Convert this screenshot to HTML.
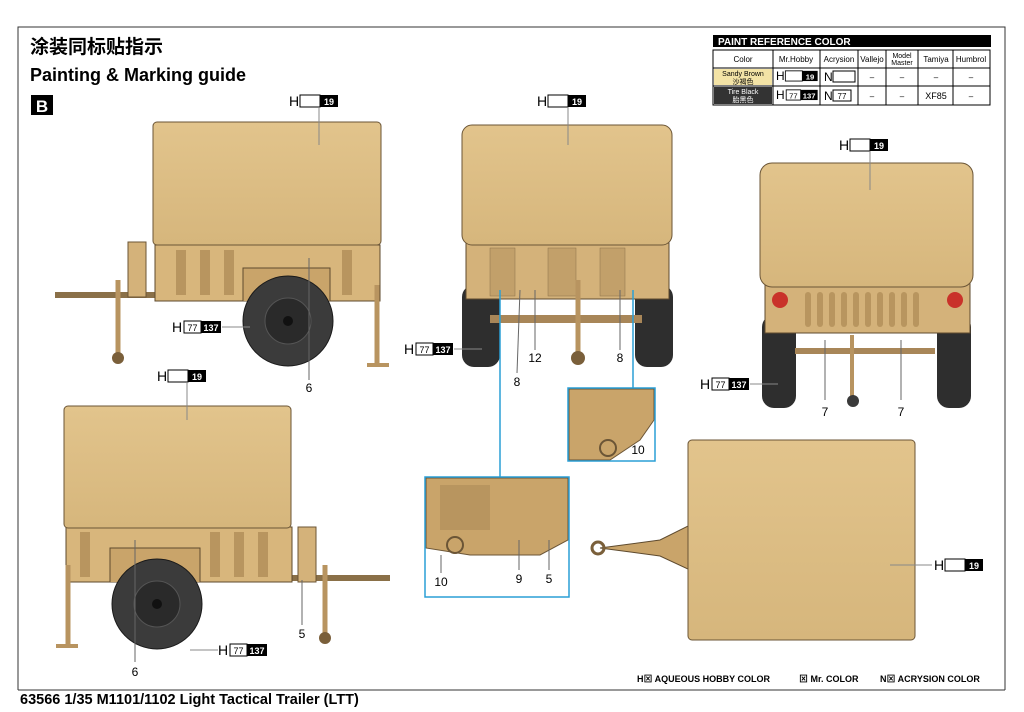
<!DOCTYPE html>
<html><head><meta charset="utf-8"><style>
body{margin:0;background:#fff;}
svg{display:block;font-family:"Liberation Sans","Noto Sans CJK SC",sans-serif;}
</style></head><body>
<svg width="1024" height="712" viewBox="0 0 1024 712" xmlns="http://www.w3.org/2000/svg">
<defs>
<g id="t19"><text x="0" y="12" font-size="14">H</text><rect x="11" y="1" width="20" height="12" fill="#fff" stroke="#000" stroke-width="1"/><rect x="31" y="1" width="18" height="12" fill="#000"/><text x="40" y="11" font-size="9" font-weight="bold" fill="#fff" text-anchor="middle">19</text></g>
<g id="t77"><text x="0" y="12" font-size="14">H</text><rect x="12" y="1" width="17" height="12" fill="#fff" stroke="#000" stroke-width="1"/><text x="20.5" y="11" font-size="9" text-anchor="middle">77</text><rect x="29" y="1" width="20" height="12" fill="#000"/><text x="39" y="11" font-size="9" font-weight="bold" fill="#fff" text-anchor="middle">137</text></g>
<linearGradient id="cv" x1="0" y1="0" x2="0" y2="1"><stop offset="0" stop-color="#e2c48c"/><stop offset="1" stop-color="#d6b67c"/></linearGradient>
</defs>
<path d="M18 690 V27 H1005 V690" fill="none" stroke="#333" stroke-width="1"/>
<line x1="18" y1="690" x2="1005" y2="690" stroke="#333"/>
<text x="30" y="53" font-size="19" font-weight="bold">涂装同标贴指示</text>
<text x="30" y="81" font-size="18" font-weight="bold">Painting &amp; Marking guide</text>
<rect x="31" y="95" width="22" height="20" fill="#000"/><text x="42" y="112" font-size="17" font-weight="bold" fill="#fff" text-anchor="middle">B</text>

<rect x="713" y="35" width="278" height="12" fill="#000"/>
<text x="718" y="45" font-size="10" font-weight="bold" fill="#fff">PAINT  REFERENCE COLOR</text>
<g stroke="#000" stroke-width="1" fill="none">
<rect x="713" y="50" width="277" height="55"/>
<line x1="713" y1="68" x2="990" y2="68"/><line x1="713" y1="86" x2="990" y2="86"/>
<line x1="773" y1="50" x2="773" y2="105"/><line x1="820" y1="50" x2="820" y2="105"/><line x1="858" y1="50" x2="858" y2="105"/><line x1="886" y1="50" x2="886" y2="105"/><line x1="918" y1="50" x2="918" y2="105"/><line x1="953" y1="50" x2="953" y2="105"/>
</g>
<rect x="714" y="69" width="58" height="16" fill="#f3e3a6"/><rect x="714" y="87" width="58" height="17" fill="#333"/>
<g font-size="8" text-anchor="middle">
<text x="743" y="62">Color</text><text x="796" y="62">Mr.Hobby</text><text x="839" y="62">Acrysion</text><text x="872" y="62">Vallejo</text><text x="902" y="58" font-size="7">Model</text><text x="902" y="65" font-size="7">Master</text><text x="936" y="62">Tamiya</text><text x="971" y="62">Humbrol</text>
<text x="743" y="76" font-size="7">Sandy Brown</text><text x="743" y="84" font-size="7">沙褐色</text>
<text x="743" y="94" font-size="7" fill="#fff">Tire Black</text><text x="743" y="102" font-size="7" fill="#fff">胎黑色</text>
<text x="872" y="80">–</text><text x="902" y="80">–</text><text x="936" y="80">–</text><text x="971" y="80">–</text>
<text x="872" y="99">–</text><text x="902" y="99">–</text><text x="936" y="99" font-size="9">XF85</text><text x="971" y="99">–</text>
</g>
<use href="#t19" transform="translate(776,70) scale(0.85)"/>
<use href="#t77" transform="translate(776,89) scale(0.85)"/>
<text x="824" y="81" font-size="12">N</text><rect x="833" y="71" width="22" height="11" fill="#fff" stroke="#000"/>
<text x="824" y="100" font-size="12">N</text><rect x="833" y="90" width="18" height="11" fill="#fff" stroke="#000"/><text x="842" y="99" font-size="8" text-anchor="middle">77</text>

<!-- side view 1 -->
<g>
<line x1="55" y1="295" x2="160" y2="295" stroke="#8a7048" stroke-width="6"/>
<rect x="128" y="242" width="18" height="55" fill="#d4b27a" stroke="#6b5536"/>
<line x1="118" y1="280" x2="118" y2="360" stroke="#b89460" stroke-width="5"/><circle cx="118" cy="358" r="6" fill="#7a5f3a"/>
<rect x="155" y="245" width="225" height="56" fill="#d8b67c" stroke="#5e4a2e"/>
<g fill="#b8955f"><rect x="176" y="250" width="10" height="45"/><rect x="200" y="250" width="10" height="45"/><rect x="224" y="250" width="10" height="45"/><rect x="342" y="250" width="10" height="45"/></g>
<path d="M243 301 V268 H330 V301" fill="#c9a46a" stroke="#5e4a2e"/>
<rect x="153" y="122" width="228" height="123" rx="4" fill="url(#cv)" stroke="#6b5536"/>
<line x1="377" y1="285" x2="377" y2="365" stroke="#b89460" stroke-width="5"/><rect x="367" y="363" width="22" height="4" fill="#b89460"/>
<circle cx="288" cy="321" r="45" fill="#3b3b3b" stroke="#1a1a1a"/><circle cx="288" cy="321" r="23" fill="#2a2a2a" stroke="#555"/><circle cx="288" cy="321" r="5" fill="#111"/>
</g>
<use href="#t19" transform="translate(289,94)"/><line x1="319" y1="108" x2="319" y2="145" stroke="#888"/>
<use href="#t77" transform="translate(172,320)"/><line x1="222" y1="327" x2="250" y2="327" stroke="#888"/>
<line x1="309" y1="258" x2="309" y2="380" stroke="#666"/><text x="309" y="392" font-size="12" text-anchor="middle">6</text>

<!-- side view 2 -->
<g>
<line x1="285" y1="578" x2="390" y2="578" stroke="#8a7048" stroke-width="6"/>
<rect x="298" y="527" width="18" height="55" fill="#d4b27a" stroke="#6b5536"/>
<line x1="325" y1="565" x2="325" y2="640" stroke="#b89460" stroke-width="5"/><circle cx="325" cy="638" r="6" fill="#7a5f3a"/>
<rect x="66" y="527" width="226" height="55" fill="#d8b67c" stroke="#5e4a2e"/>
<g fill="#b8955f"><rect x="80" y="532" width="10" height="45"/><rect x="210" y="532" width="10" height="45"/><rect x="234" y="532" width="10" height="45"/><rect x="258" y="532" width="10" height="45"/></g>
<path d="M110 582 V548 H200 V582" fill="#c9a46a" stroke="#5e4a2e"/>
<rect x="64" y="406" width="227" height="122" rx="4" fill="url(#cv)" stroke="#6b5536"/>
<line x1="68" y1="565" x2="68" y2="645" stroke="#b89460" stroke-width="5"/><rect x="56" y="644" width="22" height="4" fill="#b89460"/>
<circle cx="157" cy="604" r="45" fill="#3b3b3b" stroke="#1a1a1a"/><circle cx="157" cy="604" r="23" fill="#2a2a2a" stroke="#555"/><circle cx="157" cy="604" r="5" fill="#111"/>
</g>
<use href="#t19" transform="translate(157,369)"/><line x1="187" y1="383" x2="187" y2="420" stroke="#888"/>
<use href="#t77" transform="translate(218,643)"/><line x1="190" y1="650" x2="218" y2="650" stroke="#888"/>
<line x1="135" y1="540" x2="135" y2="662" stroke="#666"/><text x="135" y="676" font-size="12" text-anchor="middle">6</text>
<line x1="302" y1="580" x2="302" y2="625" stroke="#666"/><text x="302" y="638" font-size="12" text-anchor="middle">5</text>

<!-- rear view middle -->
<g>
<rect x="462" y="285" width="38" height="82" rx="12" fill="#2e2e2e"/><rect x="635" y="285" width="38" height="82" rx="12" fill="#2e2e2e"/>
<rect x="466" y="243" width="203" height="56" fill="#d4b27a" stroke="#5e4a2e"/>
<g fill="#c2a06a" stroke="#8a7048" stroke-width="0.5"><rect x="490" y="248" width="25" height="48"/><rect x="548" y="248" width="28" height="48"/><rect x="600" y="248" width="25" height="48"/></g>
<rect x="490" y="315" width="152" height="8" fill="#a88658"/>
<line x1="578" y1="280" x2="578" y2="355" stroke="#b89460" stroke-width="5"/><circle cx="578" cy="358" r="7" fill="#7a5f3a"/>
<rect x="462" y="125" width="210" height="120" rx="10" fill="url(#cv)" stroke="#6b5536"/>
</g>
<use href="#t19" transform="translate(537,94)"/><line x1="568" y1="108" x2="568" y2="145" stroke="#888"/>
<use href="#t77" transform="translate(404,342)"/><line x1="454" y1="349" x2="482" y2="349" stroke="#888"/>
<line x1="535" y1="290" x2="535" y2="350" stroke="#666"/><text x="535" y="362" font-size="12" text-anchor="middle">12</text>
<line x1="520" y1="290" x2="517" y2="373" stroke="#666"/><text x="517" y="386" font-size="12" text-anchor="middle">8</text>
<line x1="620" y1="290" x2="620" y2="350" stroke="#666"/><text x="620" y="362" font-size="12" text-anchor="middle">8</text>

<!-- front view right -->
<g>
<rect x="762" y="315" width="34" height="93" rx="12" fill="#2e2e2e"/><rect x="937" y="315" width="34" height="93" rx="12" fill="#2e2e2e"/>
<rect x="765" y="283" width="205" height="50" fill="#d4b27a" stroke="#5e4a2e"/>
<g fill="#b8955f"><rect x="805" y="292" width="6" height="35" rx="3"/><rect x="817" y="292" width="6" height="35" rx="3"/><rect x="829" y="292" width="6" height="35" rx="3"/><rect x="841" y="292" width="6" height="35" rx="3"/><rect x="853" y="292" width="6" height="35" rx="3"/><rect x="865" y="292" width="6" height="35" rx="3"/><rect x="877" y="292" width="6" height="35" rx="3"/><rect x="889" y="292" width="6" height="35" rx="3"/><rect x="901" y="292" width="6" height="35" rx="3"/><rect x="913" y="292" width="6" height="35" rx="3"/></g>
<circle cx="780" cy="300" r="8" fill="#c9322a"/><circle cx="955" cy="300" r="8" fill="#c9322a"/>
<rect x="795" y="348" width="140" height="6" fill="#a88658"/>
<line x1="852" y1="335" x2="852" y2="400" stroke="#b89460" stroke-width="4"/><circle cx="853" cy="401" r="6" fill="#3a3a3a"/>
<rect x="760" y="163" width="213" height="124" rx="12" fill="url(#cv)" stroke="#6b5536"/>
</g>
<use href="#t19" transform="translate(839,138)"/><line x1="870" y1="152" x2="870" y2="190" stroke="#888"/>
<use href="#t77" transform="translate(700,377)"/><line x1="750" y1="384" x2="778" y2="384" stroke="#888"/>
<line x1="825" y1="340" x2="825" y2="400" stroke="#666"/><text x="825" y="416" font-size="12" text-anchor="middle">7</text>
<line x1="901" y1="340" x2="901" y2="400" stroke="#666"/><text x="901" y="416" font-size="12" text-anchor="middle">7</text>

<!-- top view -->
<g>
<path d="M600 548 L660 540 L690 525 L690 570 L660 556 Z" fill="#c9a46a" stroke="#5e4a2e"/>
<circle cx="598" cy="548" r="6" fill="none" stroke="#7a5f3a" stroke-width="3"/>
<rect x="688" y="440" width="227" height="200" rx="4" fill="url(#cv)" stroke="#6b5536"/>
</g>
<use href="#t19" transform="translate(934,558)"/><line x1="890" y1="565" x2="932" y2="565" stroke="#888"/>

<!-- details -->
<g stroke="#2a9fd6" stroke-width="1.5" fill="none">
<polyline points="500,290 500,477"/><polyline points="633,290 633,388"/>
</g>
<rect x="569" y="389" width="85" height="71" fill="#fff"/>
<path d="M569 389 H654 V420 L640 440 L610 460 H569 Z" fill="#c9a46a" stroke="#6b5536"/>
<circle cx="608" cy="448" r="8" fill="none" stroke="#6b5536" stroke-width="2"/>
<text x="638" y="454" font-size="12" text-anchor="middle">10</text>
<rect x="426" y="478" width="142" height="118" fill="#fff"/>
<path d="M426 478 H568 V540 L540 555 H470 L426 548 Z" fill="#c9a46a" stroke="#6b5536"/>
<rect x="440" y="485" width="50" height="45" fill="#b8955f"/>
<circle cx="455" cy="545" r="8" fill="none" stroke="#6b5536" stroke-width="2"/>
<text x="441" y="586" font-size="12" text-anchor="middle">10</text><line x1="441" y1="555" x2="441" y2="573" stroke="#666"/>
<text x="519" y="583" font-size="12" text-anchor="middle">9</text><line x1="519" y1="540" x2="519" y2="570" stroke="#666"/>
<text x="549" y="583" font-size="12" text-anchor="middle">5</text><line x1="549" y1="540" x2="549" y2="570" stroke="#666"/>
<g stroke="#2a9fd6" stroke-width="1.5" fill="none">
<rect x="568" y="388" width="87" height="73"/>
<rect x="425" y="477" width="144" height="120"/>
</g>

<text x="637" y="682" font-size="9" font-weight="bold">H⊠ AQUEOUS HOBBY COLOR</text>
<text x="799" y="682" font-size="9" font-weight="bold">⊠ Mr. COLOR</text>
<text x="880" y="682" font-size="9" font-weight="bold">N⊠ ACRYSION COLOR</text>
<text x="20" y="704" font-size="14.5" font-weight="bold">63566 1/35 M1101/1102 Light Tactical Trailer (LTT)</text>
</svg>
</body></html>
